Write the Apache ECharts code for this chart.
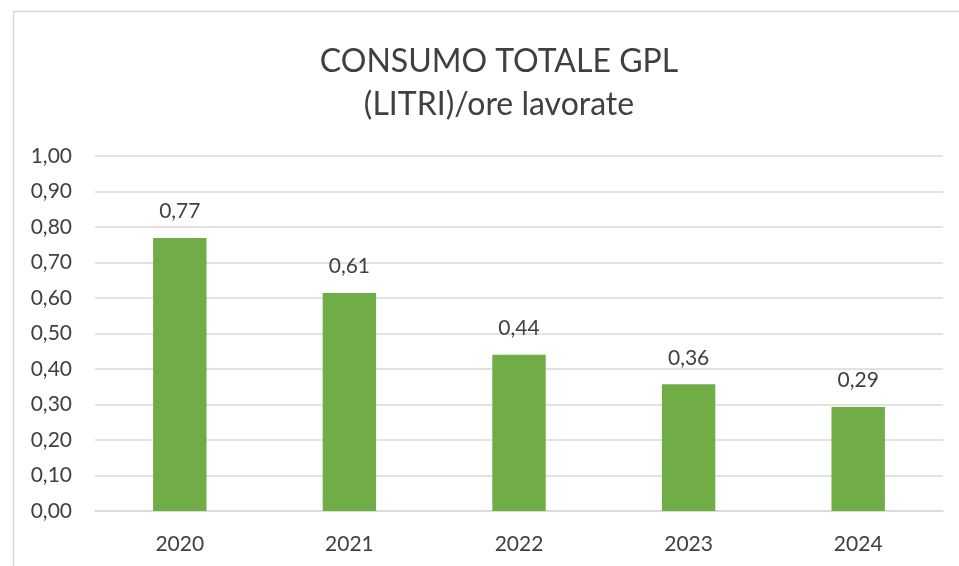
<!DOCTYPE html>
<html>
<head>
<meta charset="utf-8">
<script src="https://cdn.jsdelivr.net/npm/echarts@6/dist/echarts.min.js"></script>
<style>
  html, body { margin: 0; padding: 0; background: #fff; }
  #main { width: 959px; height: 566px; }
</style>
</head>
<body>
<div id="main"></div>
<script>
// dati
var anni = ['2020', '2021', '2022', '2023', '2024'];
var consumo = [0.769, 0.614, 0.44, 0.357, 0.293];
var titolo = 'CONSUMO TOTALE GPL\n(LITRI)/ore lavorate';

var font = 'Lato, "Open Sans", sans-serif';
var fmt = function (v) { return v.toFixed(2).replace('.', ','); };

var myChart = echarts.init(document.getElementById('main'));
var option = {
  backgroundColor: '#fff',
  animation: false,
  graphic: [{
    type: 'rect',
    shape: { x: 13.5, y: 11.5, width: 1000, height: 600 },
    style: { fill: 'none', stroke: '#d9d9d9', lineWidth: 1.5 },
    silent: true
  }],
  title: {
    text: titolo,
    left: 494,
    textAlign: 'center',
    top: 35,
    textStyle: { fontFamily: font, fontSize: 32, fontWeight: 'normal', color: '#404040', lineHeight: 43 }
  },
  grid: { left: 95, right: 16, top: 156, bottom: 55 },
  xAxis: {
    type: 'category',
    data: anni,
    axisLine: { lineStyle: { color: '#d9d9d9', width: 1.5 } },
    axisTick: { show: false },
    axisLabel: { fontFamily: font, fontSize: 21, color: '#404040', margin: 23 }
  },
  yAxis: {
    type: 'value',
    min: 0, max: 1, interval: 0.1,
    axisLine: { show: false },
    axisTick: { show: false },
    axisLabel: { fontFamily: font, fontSize: 21, color: '#404040', margin: 23, formatter: fmt },
    splitLine: { lineStyle: { color: '#d9d9d9', width: 1.5 } }
  },
  series: [{
    type: 'bar',
    data: consumo,
    barWidth: '31.5%',
    itemStyle: { color: '#70ad47' },
    label: {
      show: true,
      position: 'top',
      distance: 16,
      fontFamily: font, fontSize: 21, color: '#404040',
      formatter: function (p) { return fmt(p.value); }
    }
  }]
};
myChart.setOption(option);
</script>
</body>
</html>
